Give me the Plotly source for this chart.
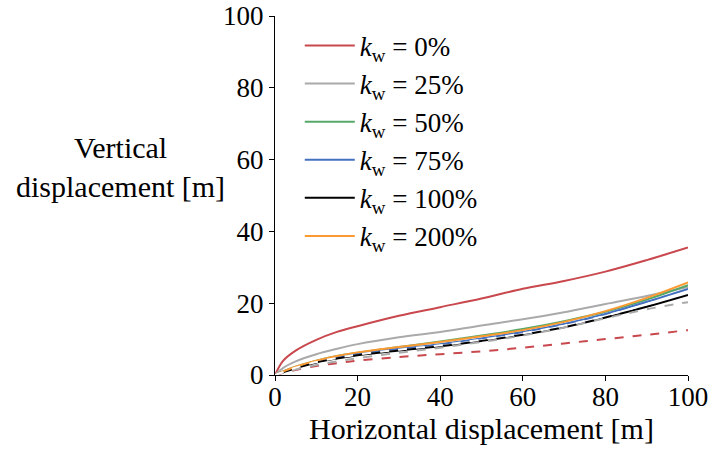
import plotly.graph_objects as go

x = [0, 2, 5, 10, 15, 20, 30, 40, 50, 60, 70, 80, 90, 100]

red_solid = [0, 4.0, 6.8, 9.8, 12.0, 13.6, 16.5, 18.9, 21.3, 24.0, 26.2, 28.8, 32.0, 35.5]
gray_solid = [0, 2.0, 3.8, 5.8, 7.3, 8.6, 10.5, 12.0, 13.8, 15.5, 17.5, 19.8, 22.0, 24.5]
green_solid = [0, 1.0, 2.3, 4.0, 5.3, 6.2, 7.8, 9.3, 11.0, 12.8, 15.0, 17.6, 21.0, 25.0]
blue_solid = [0, 0.9, 2.1, 3.7, 4.9, 5.9, 7.3, 8.6, 10.2, 12.0, 14.2, 17.0, 20.4, 24.0]
black_solid = [0, 0.8, 1.9, 3.5, 4.6, 5.5, 6.8, 8.0, 9.5, 11.2, 13.3, 16.0, 19.0, 22.3]
orange_solid = [0, 1.0, 2.3, 4.0, 5.3, 6.3, 7.8, 9.2, 10.8, 12.5, 14.8, 17.8, 21.5, 25.8]

red_dashed = [0, 0.6, 1.4, 2.5, 3.3, 4.0, 5.0, 5.8, 6.6, 7.6, 8.8, 10.0, 11.2, 12.5]
gray_dashed = [0, 0.6, 1.5, 2.8, 3.8, 4.7, 6.2, 7.6, 9.2, 11.0, 13.2, 15.8, 18.3, 20.3]
white_dashed = [0, 0.85, 2.0, 3.6, 4.75, 5.7, 7.05, 8.3, 9.85, 11.6, 13.75, 16.5, 19.7, 23.2]

labels = ["0%", "25%", "50%", "75%", "100%", "200%"]
solid_series = [red_solid, gray_solid, green_solid, blue_solid, black_solid, orange_solid]
solid_colors = ["#c8484e", "#aaaaaa", "#55a868", "#4470c0", "#000000", "#fb9a32"]

fig = go.Figure()
for ys, lab, col in zip(solid_series, labels, solid_colors):
    fig.add_trace(go.Scatter(
        x=x, y=ys, mode="lines", line=dict(color=col, width=2, shape="spline"),
        name="<i>k</i><sub>w</sub> = " + lab,
    ))

for ys, col in [(red_dashed, "#c8484e"), (gray_dashed, "#aaaaaa"), (white_dashed, "#ffffff")]:
    fig.add_trace(go.Scatter(
        x=x, y=ys, mode="lines", line=dict(color=col, width=2, dash="dash", shape="spline"),
        showlegend=False,
    ))

font_family = "Liberation Serif"
fig.update_layout(
    width=710, height=449,
    margin=dict(l=275, r=22, t=16, b=74),
    paper_bgcolor="white", plot_bgcolor="white",
    font=dict(family=font_family, size=27, color="black"),
    showlegend=True,
    legend=dict(x=0.06, y=0.985, xanchor="left", yanchor="top",
                bgcolor="rgba(0,0,0,0)", font=dict(family=font_family, size=27),
                tracegroupgap=0, itemwidth=50),
    xaxis=dict(range=[0, 100], tickvals=[0, 20, 40, 60, 80, 100], automargin=False,
               showline=True, linecolor="black", linewidth=1.2, ticks="outside",
               ticklen=5, tickcolor="black", showgrid=False, zeroline=False,
               ticklabelstandoff=-8,
               tickfont=dict(family=font_family, size=27)),
    yaxis=dict(range=[0, 100], tickvals=[0, 20, 40, 60, 80, 100], automargin=False,
               showline=True, linecolor="black", linewidth=1.2, ticks="outside",
               ticklen=5, tickcolor="black", showgrid=False, zeroline=False,
               tickfont=dict(family=font_family, size=27)),
    annotations=[
        dict(text="Vertical<br>displacement [m]", x=-0.373, y=0.58,
             xref="paper", yref="paper", showarrow=False,
             font=dict(family=font_family, size=30),
             xanchor="center", yanchor="middle"),
        dict(text="Horizontal displacement [m]", x=0.5, y=-0.15,
             xref="paper", yref="paper", showarrow=False,
             font=dict(family=font_family, size=30),
             xanchor="center", yanchor="middle"),
    ],
)

fig.write_html("out.html")
